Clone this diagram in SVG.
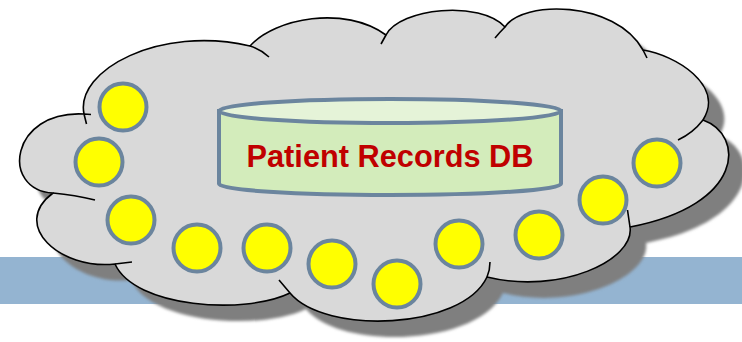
<svg xmlns="http://www.w3.org/2000/svg" width="742" height="342" viewBox="0 0 742 342">
<defs>
<style>
.lobe{fill:#d9d9d9;stroke:#000;stroke-width:1.6;stroke-linejoin:round}
.tick{fill:none;stroke:#000;stroke-width:1.6;stroke-linecap:butt}
.dot{fill:#ffff00;stroke:#6b859e;stroke-width:4}
.db{stroke:#6b859e;stroke-width:4}
.lbl{font-family:"Liberation Sans",Arial,sans-serif;font-weight:bold;font-size:32px;fill:#c00000}
</style>
<filter id="soft" x="-5%" y="-5%" width="110%" height="110%"><feGaussianBlur stdDeviation="1.5"/></filter>
<path id="cloudShape" d="M84,114 C75,70 160,25 250,46 C275,18 345,5 386,35 C400,8 480,0 505,27 C522,0 615,0 643,50 C675,55 725,85 703,120 C745,135 745,205 630,227 C635,260 560,295 487,277 C462,330 325,335 290,293 C245,315 135,308 115,264 C60,270 10,225 53,193 C0,190 10,110 84,114 Z"/>
</defs>
<rect id="band" x="0" y="257" width="742" height="47" fill="#94b4d1"/>
<g id="cloud">
<use href="#cloudShape" transform="translate(16,16)" fill="#7f7f7f" filter="url(#soft)"/>
<use href="#cloudShape" class="lobe"/>
<path class="tick" d="M84,114 L91,114.5 M84,114 L86.5,124 M250,46 Q260,49 269,57 M386,35 L381,44 M505,27 Q500,32 495,38 M643,50 L647,58 M703,120 Q693,133 678,140 M630,227 L627.5,210 M487,277 Q490,270 490,262 M290,293 L279,280 M115,264 L132,262 M53,193 Q75,195 95,200"/>
</g>
<g id="db">
<path class="db" fill="#d3ecbb" d="M219,111 L219,184 A171,11 0 0 0 561,184 L561,111 Z"/>
<ellipse class="db" cx="390" cy="111" rx="171" ry="12" fill="#e5f3d8"/>
<text class="lbl" x="390" y="167" text-anchor="middle" textLength="287" lengthAdjust="spacingAndGlyphs">Patient Records DB</text>
</g>
<g id="c1"><circle class="dot" cx="123" cy="107" r="23.5"/></g>
<g id="c2"><circle class="dot" cx="99" cy="162" r="23.5"/></g>
<g id="c3"><circle class="dot" cx="131" cy="220" r="23.5"/></g>
<g id="c4"><circle class="dot" cx="197" cy="248" r="23.5"/></g>
<g id="c5"><circle class="dot" cx="267" cy="248" r="23.5"/></g>
<g id="c6"><circle class="dot" cx="332" cy="264" r="23.5"/></g>
<g id="c7"><circle class="dot" cx="397" cy="284" r="23.5"/></g>
<g id="c8"><circle class="dot" cx="459" cy="244" r="23.5"/></g>
<g id="c9"><circle class="dot" cx="539" cy="235" r="23.5"/></g>
<g id="c10"><circle class="dot" cx="603" cy="200" r="23.5"/></g>
<g id="c11"><circle class="dot" cx="657" cy="163" r="23.5"/></g>
</svg>
